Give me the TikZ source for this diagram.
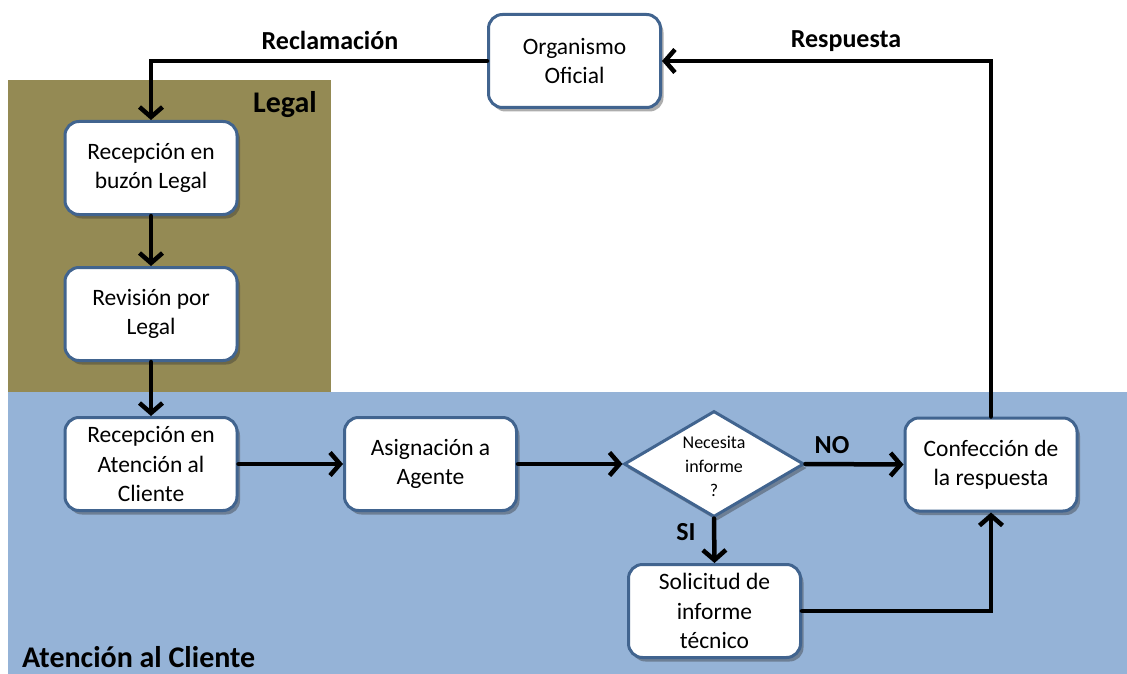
\documentclass[tikz,border=0pt]{standalone}
\usepackage{fontspec}
\setmainfont{Carlito}
\usetikzlibrary{arrows.meta,shapes.geometric,shadows}
\definecolor{olivebg}{HTML}{948A54}
\definecolor{bluebg}{HTML}{95B3D7}
\definecolor{boxborder}{HTML}{41648F}
\begin{document}
\begin{tikzpicture}[x=1pt,y=-1pt,
  shad/.style={drop shadow={shadow xshift=3pt, shadow yshift=-4pt, opacity=0.4, fill=black!80}},
  proc/.style={draw=boxborder, line width=3pt, fill=white, rounded corners=14pt,
    minimum width=172pt, minimum height=93pt, align=center, inner sep=0pt,
    font=\fontsize{23.5}{29.5}\selectfont, shad},
  dec/.style={diamond, draw=boxborder, line width=3pt, fill=white, minimum width=180pt,
    minimum height=106pt, inner sep=0pt, shad},
  arr/.style={line width=4.5pt, line cap=round, line join=miter, -{Straight Barb[length=10pt,width=23pt,line width=4.5pt]}},
  lbl/.style={font=\fontsize{26}{30}\selectfont\bfseries},
  region/.style={font=\fontsize{30}{34}\selectfont\bfseries, inner sep=0pt}
]
\useasboundingbox (0,0) rectangle (1127,674);
\fill[white] (0,0) rectangle (1127,674);
% regions
\fill[olivebg] (8,80) rectangle (331,392);
\fill[bluebg] (8,392) rectangle (1127,674);
\node[region, anchor=east] (legal) at (317,105) {Legal};
\node[region, anchor=base west] (ac) at (22,667) {Atención al Cliente};
% nodes
\node[proc] (org) at (574.5,61) {Organismo\\Oficial};
\node[proc] (buzon) at (151,168) {Recepción en\\buzón Legal};
\node[proc] (rev) at (151,314) {Revisión por\\Legal};
\node[proc] (recac) at (151,464) {Recepción en\\Atención al\\Cliente};
\node[proc] (asig) at (430.5,464) {Asignación a\\Agente};
\node[dec] (dia) at (714,464) {};
\node[align=center, font=\fontsize{18}{24}\selectfont] (diatxt) at (714,466) {Necesita\\informe\\?};
\node[proc] (conf) at (991,464.5) {Confección de\\la respuesta};
\node[proc] (sol) at (714.5,611) {Solicitud de\\informe\\técnico};
% connectors
\draw[arr] (org.west) -| (buzon.north);
\draw[arr] (conf.north) |- (org.east);
\draw[arr] (buzon.south) -- (rev.north);
\draw[arr] (rev.south) -- (recac.north);
\draw[arr] (recac.east) -- (asig.west);
\draw[arr] (asig.east) -- (dia.west);
\draw[arr] (dia.east) -- (conf.west);
\draw[arr] (dia.south) -- (sol.north);
\draw[arr] (sol.east) -| (conf.south);
% labels
\node[lbl] (lrec) at (330,40) {Reclamación};
\node[lbl] (lresp) at (846,41) {Respuesta};
\node[lbl] (lno) at (832,445) {NO};
\node[lbl] (lsi) at (686,532) {SI};
\end{tikzpicture}
\end{document}
